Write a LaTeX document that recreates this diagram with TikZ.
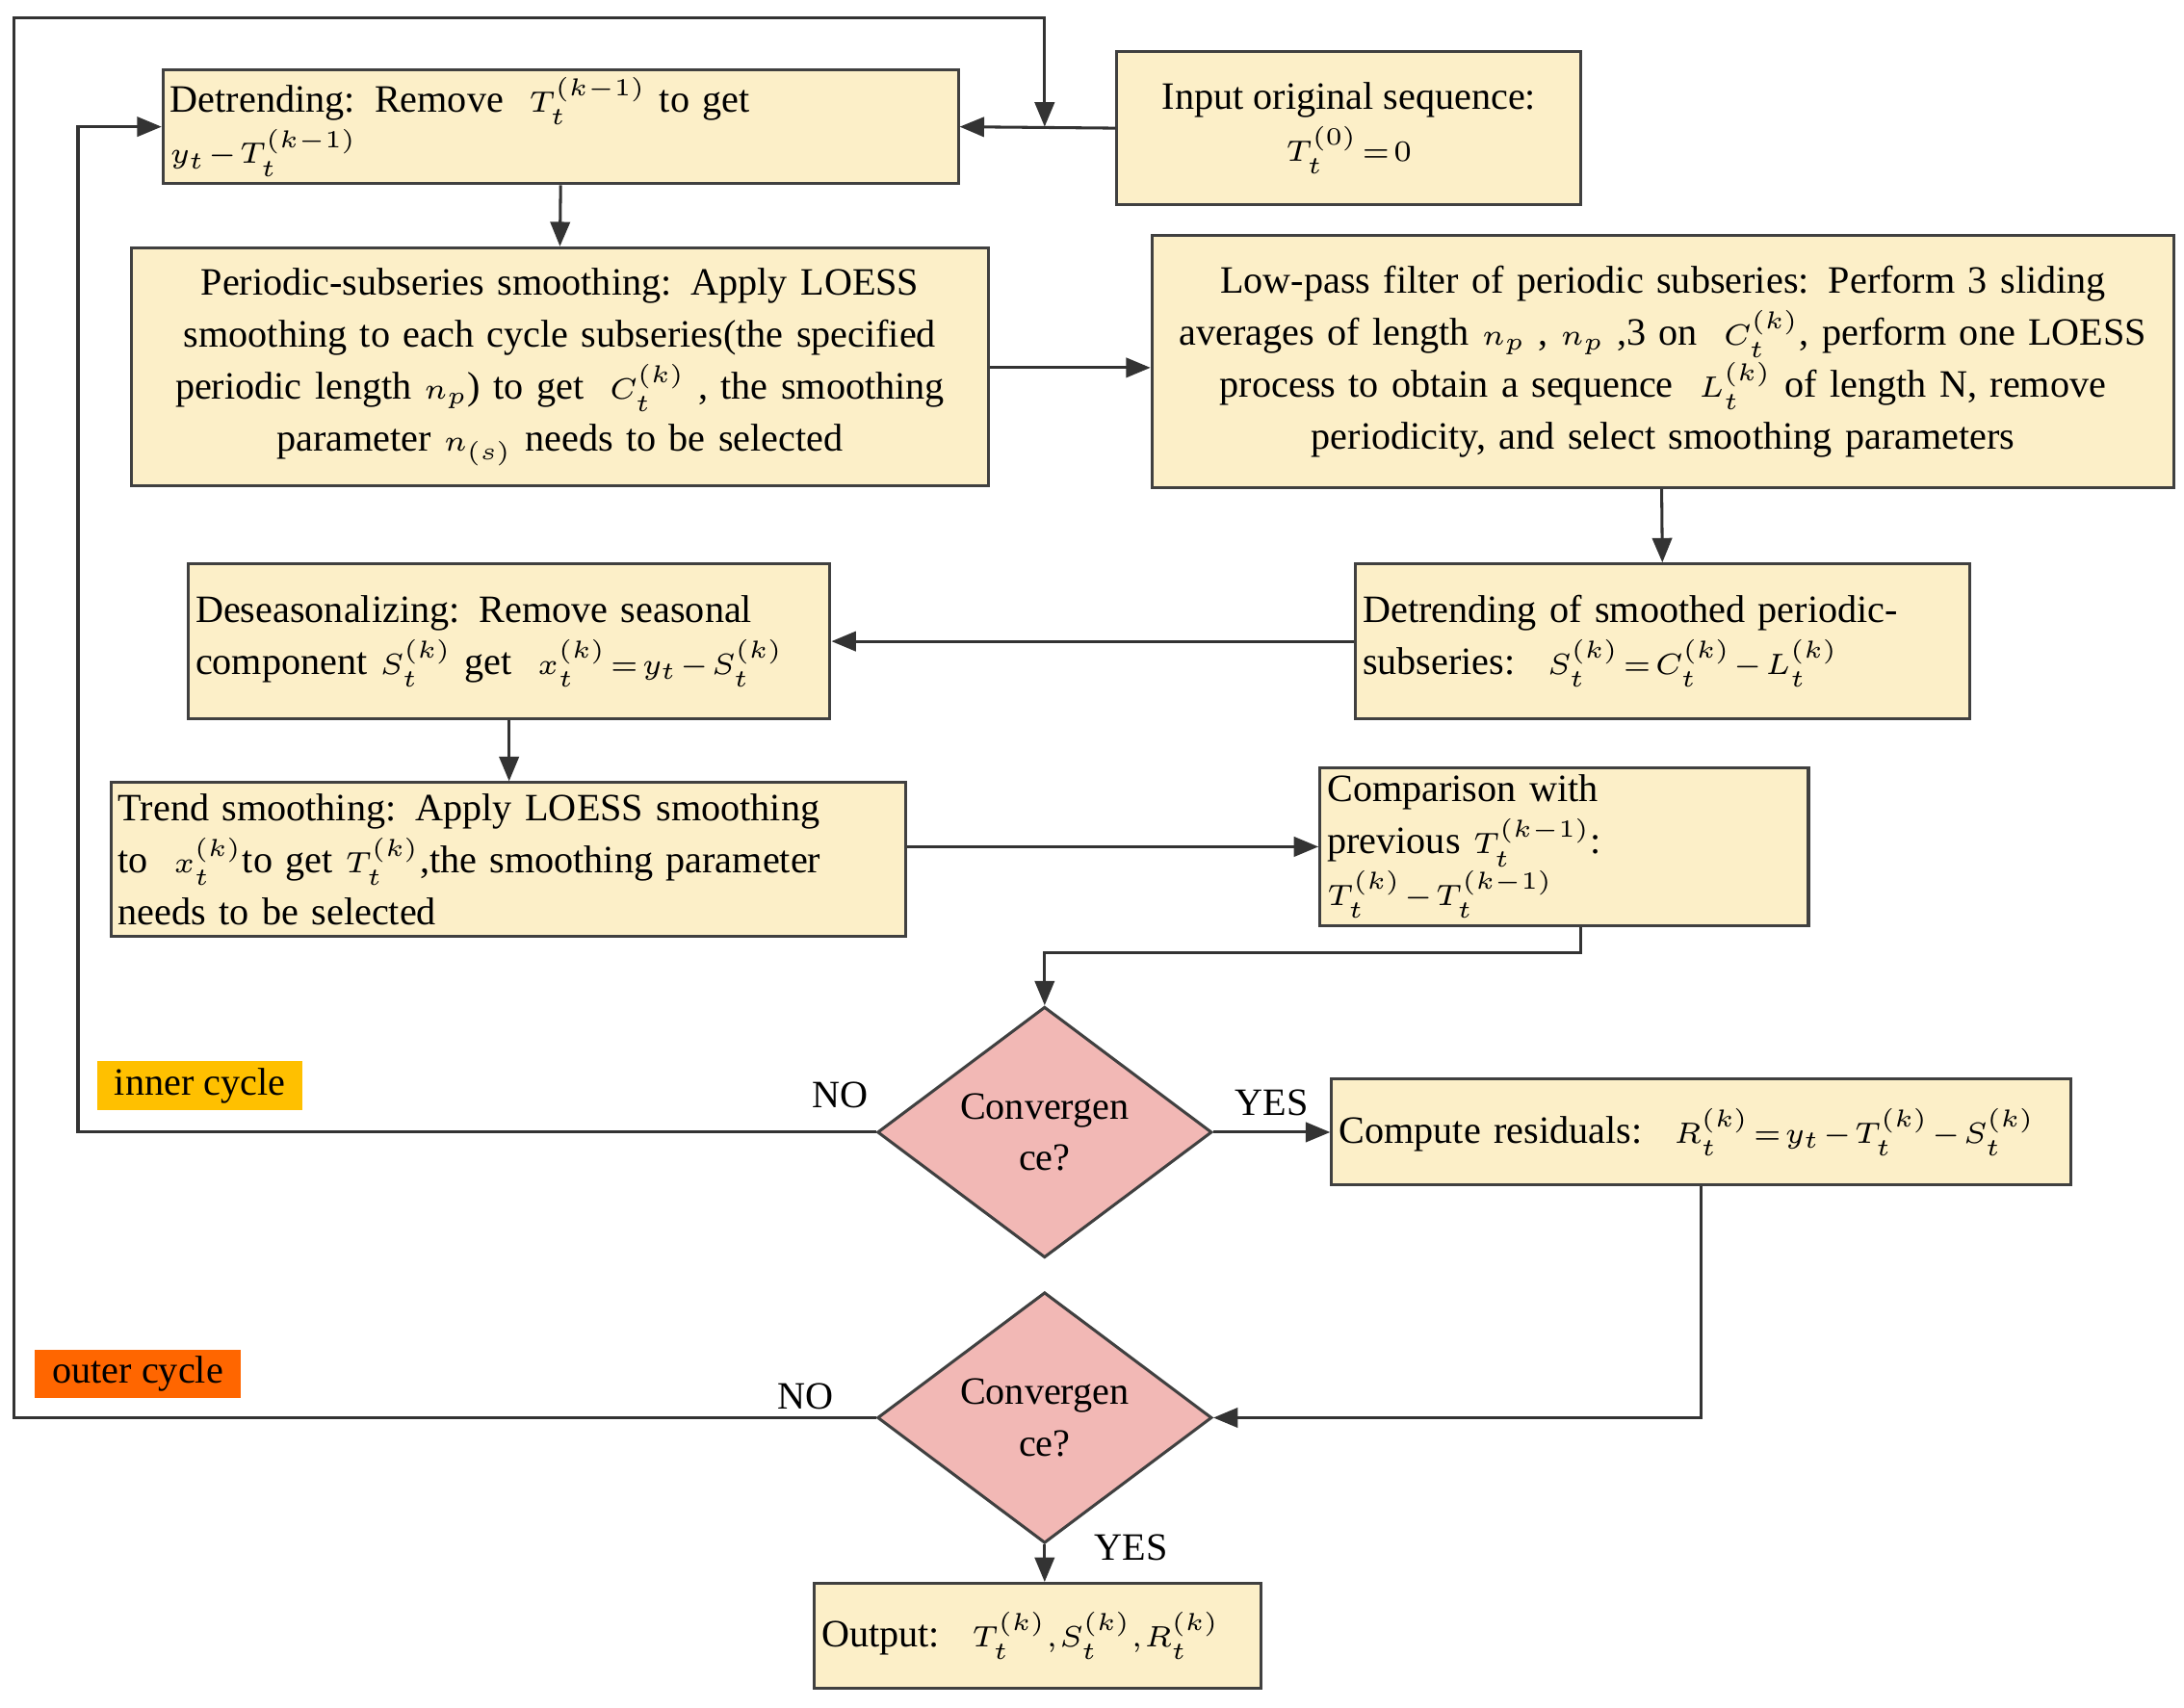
\documentclass[tikz,border=0pt]{standalone}
\usepackage{fontspec}
\setmainfont{Liberation Serif}
\usetikzlibrary{shapes.geometric,arrows.meta}
\newcommand{\mm}[1]{\mbox{\fontsize{6}{7}\selectfont$\thinmuskip=1mu\medmuskip=1.5mu\thickmuskip=2mu #1$}}
\begin{document}
\begin{tikzpicture}[x=0.01cm,y=-0.01cm,
  font=\fontsize{7.9}{10.6}\selectfont,
  box/.style={draw=black!75,line width=0.6pt,fill=boxfill,inner sep=1.5pt},
  dia/.style={diamond,draw=black!75,line width=0.6pt,fill=diafill,inner sep=0pt,minimum width=2.4cm,minimum height=1.8cm,aspect=1.33},
  ln/.style={line width=0.6pt,draw=black!80},
  ar/.style={ln,-{Triangle[length=5pt,width=4pt]}}]
\definecolor{boxfill}{HTML}{FCEFC8}
\definecolor{diafill}{HTML}{F2B8B5}
\useasboundingbox (0,0) rectangle (1568,1226);
\node[box,minimum width=5.69cm,minimum height=0.76cm,text width=5.6cm,align=left] (det) at (402.5,91) {Detrending: Remove \ \mm{T_t^{(k-1)}} to get \ \mm{y_t-T_t^{(k-1)}}};
\node[box,minimum width=3.33cm,minimum height=1.10cm,align=center] (inp) at (968.5,92) {Input original sequence:\\ \mm{T_t^{(0)}=0}};
\node[box,minimum width=6.08cm,minimum height=1.71cm,text width=6.05cm,align=center] (per) at (402,263.5) {Periodic-subseries smoothing: Apply LOESS\\ smoothing to each cycle subseries(the specified\\ periodic length \mm{n_p}) to get \ \mm{C_t^{(k)}} , the smoothing\\ parameter \mm{n_{(s)}} needs to be selected};
\node[box,minimum width=7.26cm,minimum height=1.81cm,text width=7.23cm,align=center] (low) at (1194,259.5) {Low-pass filter of periodic subseries: Perform 3 sliding\\ averages of length \mm{n_p} , \mm{n_p} ,3 on \ \mm{C_t^{(k)}}, perform one LOESS\\ process to obtain a sequence \ \mm{L_t^{(k)}} of length N, remove\\ periodicity, and select smoothing parameters};
\node[box,minimum width=4.59cm,minimum height=1.11cm,text width=4.5cm,align=left] (des) at (365.5,460.5) {Deseasonalizing: Remove seasonal\\ component \mm{S_t^{(k)}} get \ \mm{x_t^{(k)}=y_t-S_t^{(k)}}};
\node[box,minimum width=4.37cm,minimum height=1.11cm,text width=4.3cm,align=left] (dsm) at (1193.5,460.5) {Detrending of smoothed periodic-\\subseries: \ \mm{S_t^{(k)}=C_t^{(k)}-L_t^{(k)}}};
\node[box,minimum width=5.70cm,minimum height=1.10cm,text width=5.6cm,align=left] (trd) at (365,617) {Trend smoothing: Apply LOESS smoothing\\ to \ \mm{x_t^{(k)}}to get \mm{T_t^{(k)}},the smoothing parameter\\ needs to be selected};
\node[box,minimum width=3.48cm,minimum height=0.76cm,text width=3.4cm,align=left] (cmp) at (1123,608) {Comparison with\\ previous \mm{T_t^{(k-1)}}: \ \mm{T_t^{(k)}-T_t^{(k-1)}}};
\node[dia] (d1) at (750,813) {};
\node[align=center] at (d1) {Convergen\\ce?};
\node[box,minimum width=5.29cm,minimum height=0.76cm,text width=5.2cm,align=left] (res) at (1221.5,813) {Compute residuals: \ \mm{R_t^{(k)}=y_t-T_t^{(k)}-S_t^{(k)}}};
\node[dia] (d2) at (750,1018) {};
\node[align=center] at (d2) {Convergen\\ce?};
\node[box,minimum width=3.16cm,minimum height=0.75cm,text width=3.1cm,align=left] (out) at (745,1174.5) {Output: \ \mm{T_t^{(k)},S_t^{(k)},R_t^{(k)}}};
\node[fill={rgb,255:red,255;green,192;blue,0},minimum width=1.47cm,minimum height=0.35cm,inner sep=0pt] (ic) at (143.5,779.5) {inner cycle};
\node[fill={rgb,255:red,255;green,102;blue,0},minimum width=1.48cm,minimum height=0.35cm,inner sep=0pt] (oc) at (99,986.5) {outer cycle};
\coordinate (j) at (750,91);
\draw[ar] (inp.west) -- (det.east);
\draw[ar] (d2.west) -- (10,1018) -- (10,13) -- (750,13) -- (j);
\draw[ar] (d1.west) -- (56,813) -- (56,91) -- (det.west);
\draw[ar] (det.south) -- (per.north);
\draw[ar] (per.east |- 0,264) -- (low.west |- 0,264);
\draw[ar] (low.south -| 1193,0) -- (dsm.north);
\draw[ar] (dsm.west) -- (des.east);
\draw[ar] (des.south) -- (trd.north -| des.south);
\draw[ar] (trd.east |- cmp.west) -- (cmp.west);
\draw[ar] (cmp.south -| 1135,0) -- (1135,684) -- (750,684) -- (d1.north);
\draw[ar] (d1.east) -- (res.west);
\draw[ar] (res.south) -- (res.south |- d2.east) -- (d2.east);
\draw[ar] (d2.south) -- (out.north -| d2.south);
\node at (603,786) {NO};
\node at (913,792) {YES};
\node at (578,1003) {NO};
\node at (812,1111) {YES};
\end{tikzpicture}
\end{document}
